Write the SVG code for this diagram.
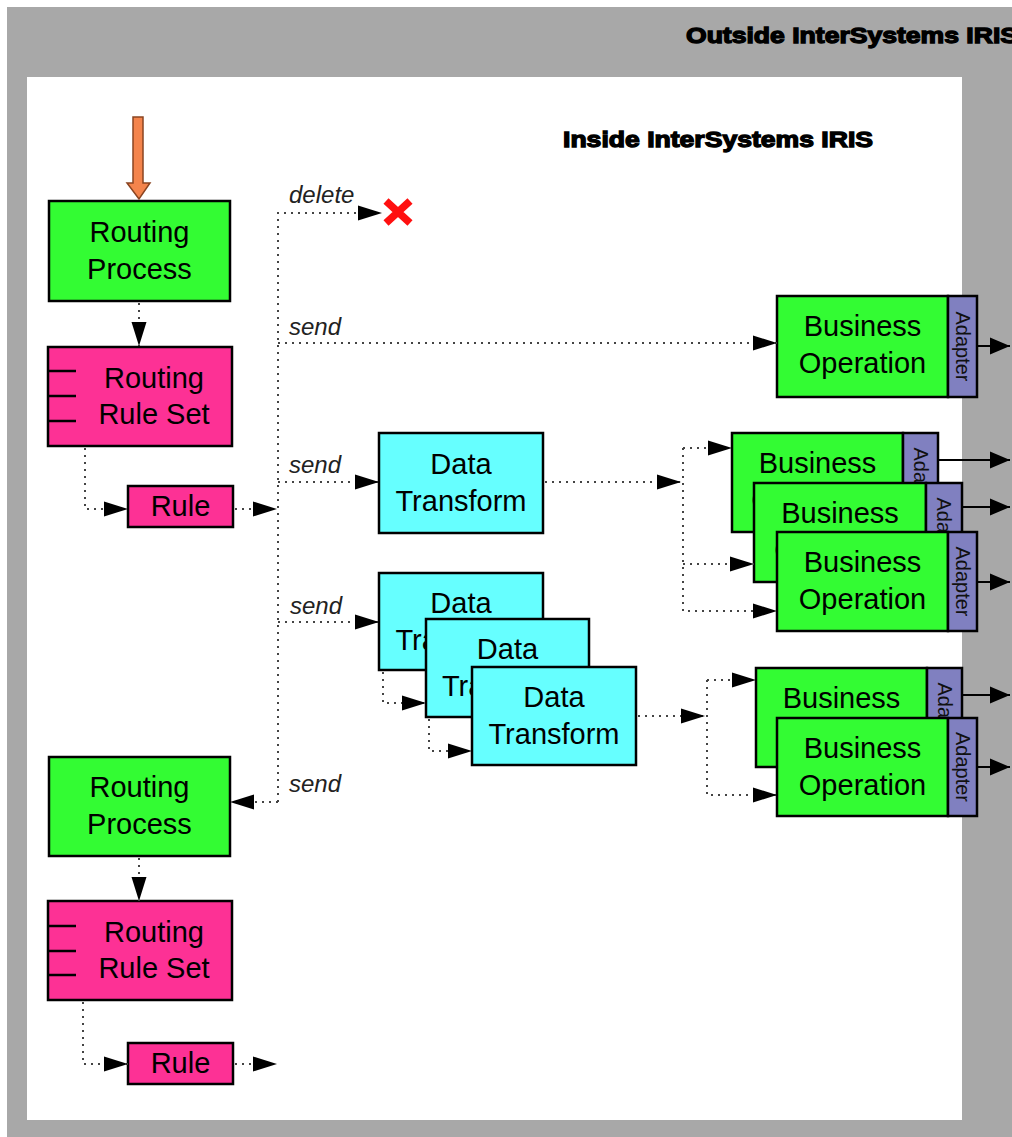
<svg xmlns="http://www.w3.org/2000/svg" width="1012" height="1137" viewBox="0 0 1012 1137">
<style>
.lbl{font-family:"Liberation Sans",Arial,sans-serif;font-size:29px;fill:#000;text-anchor:middle}
.ad{font-family:"Liberation Sans",Arial,sans-serif;font-size:20px;fill:#111;text-anchor:middle;dominant-baseline:central}
.it{font-family:"Liberation Sans",Arial,sans-serif;font-size:24px;font-style:italic;fill:#222}
.hdr{font-family:"Liberation Sans",Arial,sans-serif;font-size:22px;font-weight:bold;fill:#000;stroke:#000;stroke-width:1.3}
.box{stroke:#000;stroke-width:2.5}
.rp{fill:#33fc33}
.rs{fill:#fd3195}
.dt{fill:#66ffff}
.bo{fill:#33fc33}
.adp{fill:#8080c0}
.dot{fill:none;stroke:#444;stroke-width:2;stroke-dasharray:2 5}
.sol{fill:none;stroke:#000;stroke-width:2}
.tick{stroke:#000;stroke-width:2.5}
</style>
<defs>
<marker id="ah" markerUnits="userSpaceOnUse" markerWidth="26" markerHeight="16" refX="24" refY="8" orient="auto">
<path d="M0,0.5 L24,8 L0,15.5 z" fill="#000"/>
</marker>
<marker id="as" markerUnits="userSpaceOnUse" markerWidth="22" markerHeight="18" refX="20" refY="9" orient="auto">
<path d="M0,0.5 L20,9 L0,17.5 z" fill="#000"/>
</marker>
</defs>

<rect x="7" y="7" width="1005" height="1130" fill="#a8a8a8"/>
<rect x="27" y="77" width="935" height="1043" fill="#ffffff"/>
<text class="hdr" x="686" y="43" textLength="332" lengthAdjust="spacingAndGlyphs">Outside InterSystems IRIS</text>
<text class="hdr" x="563" y="147" textLength="310" lengthAdjust="spacingAndGlyphs">Inside InterSystems IRIS</text>

<g id="rp1"><rect class="box rp" x="49" y="201" width="181" height="100"/><text class="lbl" x="139.5" y="242">Routing</text><text class="lbl" x="139.5" y="279">Process</text></g>
<g id="rrs1"><rect class="box rs" x="48" y="347" width="184" height="99"/><line class="tick" x1="48" y1="371" x2="76" y2="371"/><line class="tick" x1="48" y1="396" x2="76" y2="396"/><line class="tick" x1="48" y1="421" x2="76" y2="421"/><text class="lbl" x="154" y="388">Routing</text><text class="lbl" x="154" y="424">Rule Set</text></g>
<g id="rule1"><rect class="box rs" x="128" y="486" width="105" height="41"/><text class="lbl" x="180.5" y="516">Rule</text></g>

<g id="rp2"><rect class="box rp" x="49" y="757" width="181" height="99"/><text class="lbl" x="139.5" y="797">Routing</text><text class="lbl" x="139.5" y="834">Process</text></g>
<g id="rrs2"><rect class="box rs" x="48" y="901" width="184" height="99"/><line class="tick" x1="48" y1="926" x2="76" y2="926"/><line class="tick" x1="48" y1="951" x2="76" y2="951"/><line class="tick" x1="48" y1="975" x2="76" y2="975"/><text class="lbl" x="154" y="942">Routing</text><text class="lbl" x="154" y="978">Rule Set</text></g>
<g id="rule2"><rect class="box rs" x="128" y="1043" width="105" height="41"/><text class="lbl" x="180.5" y="1073">Rule</text></g>

<g id="dt1"><rect class="box dt" x="379" y="433" width="164" height="100"/><text class="lbl" x="461" y="474">Data</text><text class="lbl" x="461" y="511">Transform</text></g>
<g id="dt2a"><rect class="box dt" x="379" y="573" width="164" height="97"/><text class="lbl" x="461" y="613">Data</text><text class="lbl" x="461" y="650">Transform</text></g>
<g id="dt2b"><rect class="box dt" x="426" y="619" width="163" height="98"/><text class="lbl" x="507.5" y="659">Data</text><text class="lbl" x="507.5" y="696">Transform</text></g>
<g id="dt2c"><rect class="box dt" x="472" y="667" width="164" height="98"/><text class="lbl" x="554" y="707">Data</text><text class="lbl" x="554" y="744">Transform</text></g>

<g id="bo1"><rect class="box bo" x="777" y="296" width="171" height="101"/><rect class="box adp" x="948" y="296" width="29" height="101"/><text class="lbl" x="862.5" y="336">Business</text><text class="lbl" x="862.5" y="373">Operation</text><text class="ad" x="962.5" y="346.5" transform="rotate(90 962.5 346.5)">Adapter</text></g>

<g id="bo2a"><rect class="box bo" x="732" y="433" width="171" height="99"/><rect class="box adp" x="903" y="433" width="35" height="99"/><text class="lbl" x="817.5" y="473">Business</text><text class="lbl" x="815" y="510">Operation</text><text class="ad" x="920.5" y="482.5" transform="rotate(90 920.5 482.5)">Adapter</text></g>
<g id="bo2b"><rect class="box bo" x="754" y="483" width="172" height="99"/><rect class="box adp" x="926" y="483" width="36" height="99"/><text class="lbl" x="840" y="523">Business</text><text class="lbl" x="838" y="560">Operation</text><text class="ad" x="944" y="532.5" transform="rotate(90 944 532.5)">Adapter</text></g>
<g id="bo2c"><rect class="box bo" x="777" y="532" width="171" height="99"/><rect class="box adp" x="948" y="532" width="29" height="99"/><text class="lbl" x="862.5" y="572">Business</text><text class="lbl" x="862.5" y="609">Operation</text><text class="ad" x="962.5" y="581.5" transform="rotate(90 962.5 581.5)">Adapter</text></g>

<g id="bo3a"><rect class="box bo" x="756" y="668" width="171" height="99"/><rect class="box adp" x="927" y="668" width="35" height="99"/><text class="lbl" x="841.5" y="708">Business</text><text class="lbl" x="839" y="745">Operation</text><text class="ad" x="944.5" y="717.5" transform="rotate(90 944.5 717.5)">Adapter</text></g>
<g id="bo3b"><rect class="box bo" x="777" y="718" width="171" height="98"/><rect class="box adp" x="948" y="718" width="29" height="98"/><text class="lbl" x="862.5" y="758">Business</text><text class="lbl" x="862.5" y="795">Operation</text><text class="ad" x="962.5" y="767" transform="rotate(90 962.5 767)">Adapter</text></g>

<g id="delete-x"><path d="M386,201 L410,223 M410,201 L386,223" stroke="#ff1010" stroke-width="7.5" fill="none"/></g>

<g id="connectors">
<polygon points="133,117 143,117 143,183 150,183 139,199 127,183 133,183" fill="#f4844c" stroke="#8a4420" stroke-width="1.5"/>
<path class="dot" d="M139,303 V346" marker-end="url(#ah)"/>
<path class="dot" d="M85,448 V509 H128" marker-end="url(#ah)"/>
<path class="dot" d="M235,509 H277" marker-end="url(#ah)"/>
<path class="dot" d="M278,802 V213 H382" marker-end="url(#ah)"/>
<path class="dot" d="M278,343 H777" marker-end="url(#ah)"/>
<path class="dot" d="M278,482 H379" marker-end="url(#ah)"/>
<path class="dot" d="M278,622 H379" marker-end="url(#ah)"/>
<path class="dot" d="M278,802 H230" marker-end="url(#ah)"/>
<path class="dot" d="M545,482 H681" marker-end="url(#ah)"/>
<path class="dot" d="M683,448 H732" marker-end="url(#ah)"/>
<path class="dot" d="M683,448 V611 H777" marker-end="url(#ah)"/>
<path class="dot" d="M683,564 H754" marker-end="url(#ah)"/>
<path class="dot" d="M383,672 V703 H426" marker-end="url(#ah)"/>
<path class="dot" d="M429,719 V751 H472" marker-end="url(#ah)"/>
<path class="dot" d="M638,716 H705" marker-end="url(#ah)"/>
<path class="dot" d="M707,680 H756" marker-end="url(#ah)"/>
<path class="dot" d="M707,680 V795 H777" marker-end="url(#ah)"/>
<path class="dot" d="M139,858 V901" marker-end="url(#ah)"/>
<path class="dot" d="M83,1002 V1064 H128" marker-end="url(#ah)"/>
<path class="dot" d="M235,1064 H277" marker-end="url(#ah)"/>
<path class="sol" d="M977,346 H1010" marker-end="url(#as)"/>
<path class="sol" d="M938,460 H1010" marker-end="url(#as)"/>
<path class="sol" d="M962,507 H1010" marker-end="url(#as)"/>
<path class="sol" d="M977,582 H1010" marker-end="url(#as)"/>
<path class="sol" d="M962,695 H1010" marker-end="url(#as)"/>
<path class="sol" d="M977,767 H1010" marker-end="url(#as)"/>
<text class="it" x="289" y="203">delete</text>
<text class="it" x="289" y="335">send</text>
<text class="it" x="289" y="473">send</text>
<text class="it" x="290" y="614">send</text>
<text class="it" x="289" y="792">send</text>
</g>
</svg>
